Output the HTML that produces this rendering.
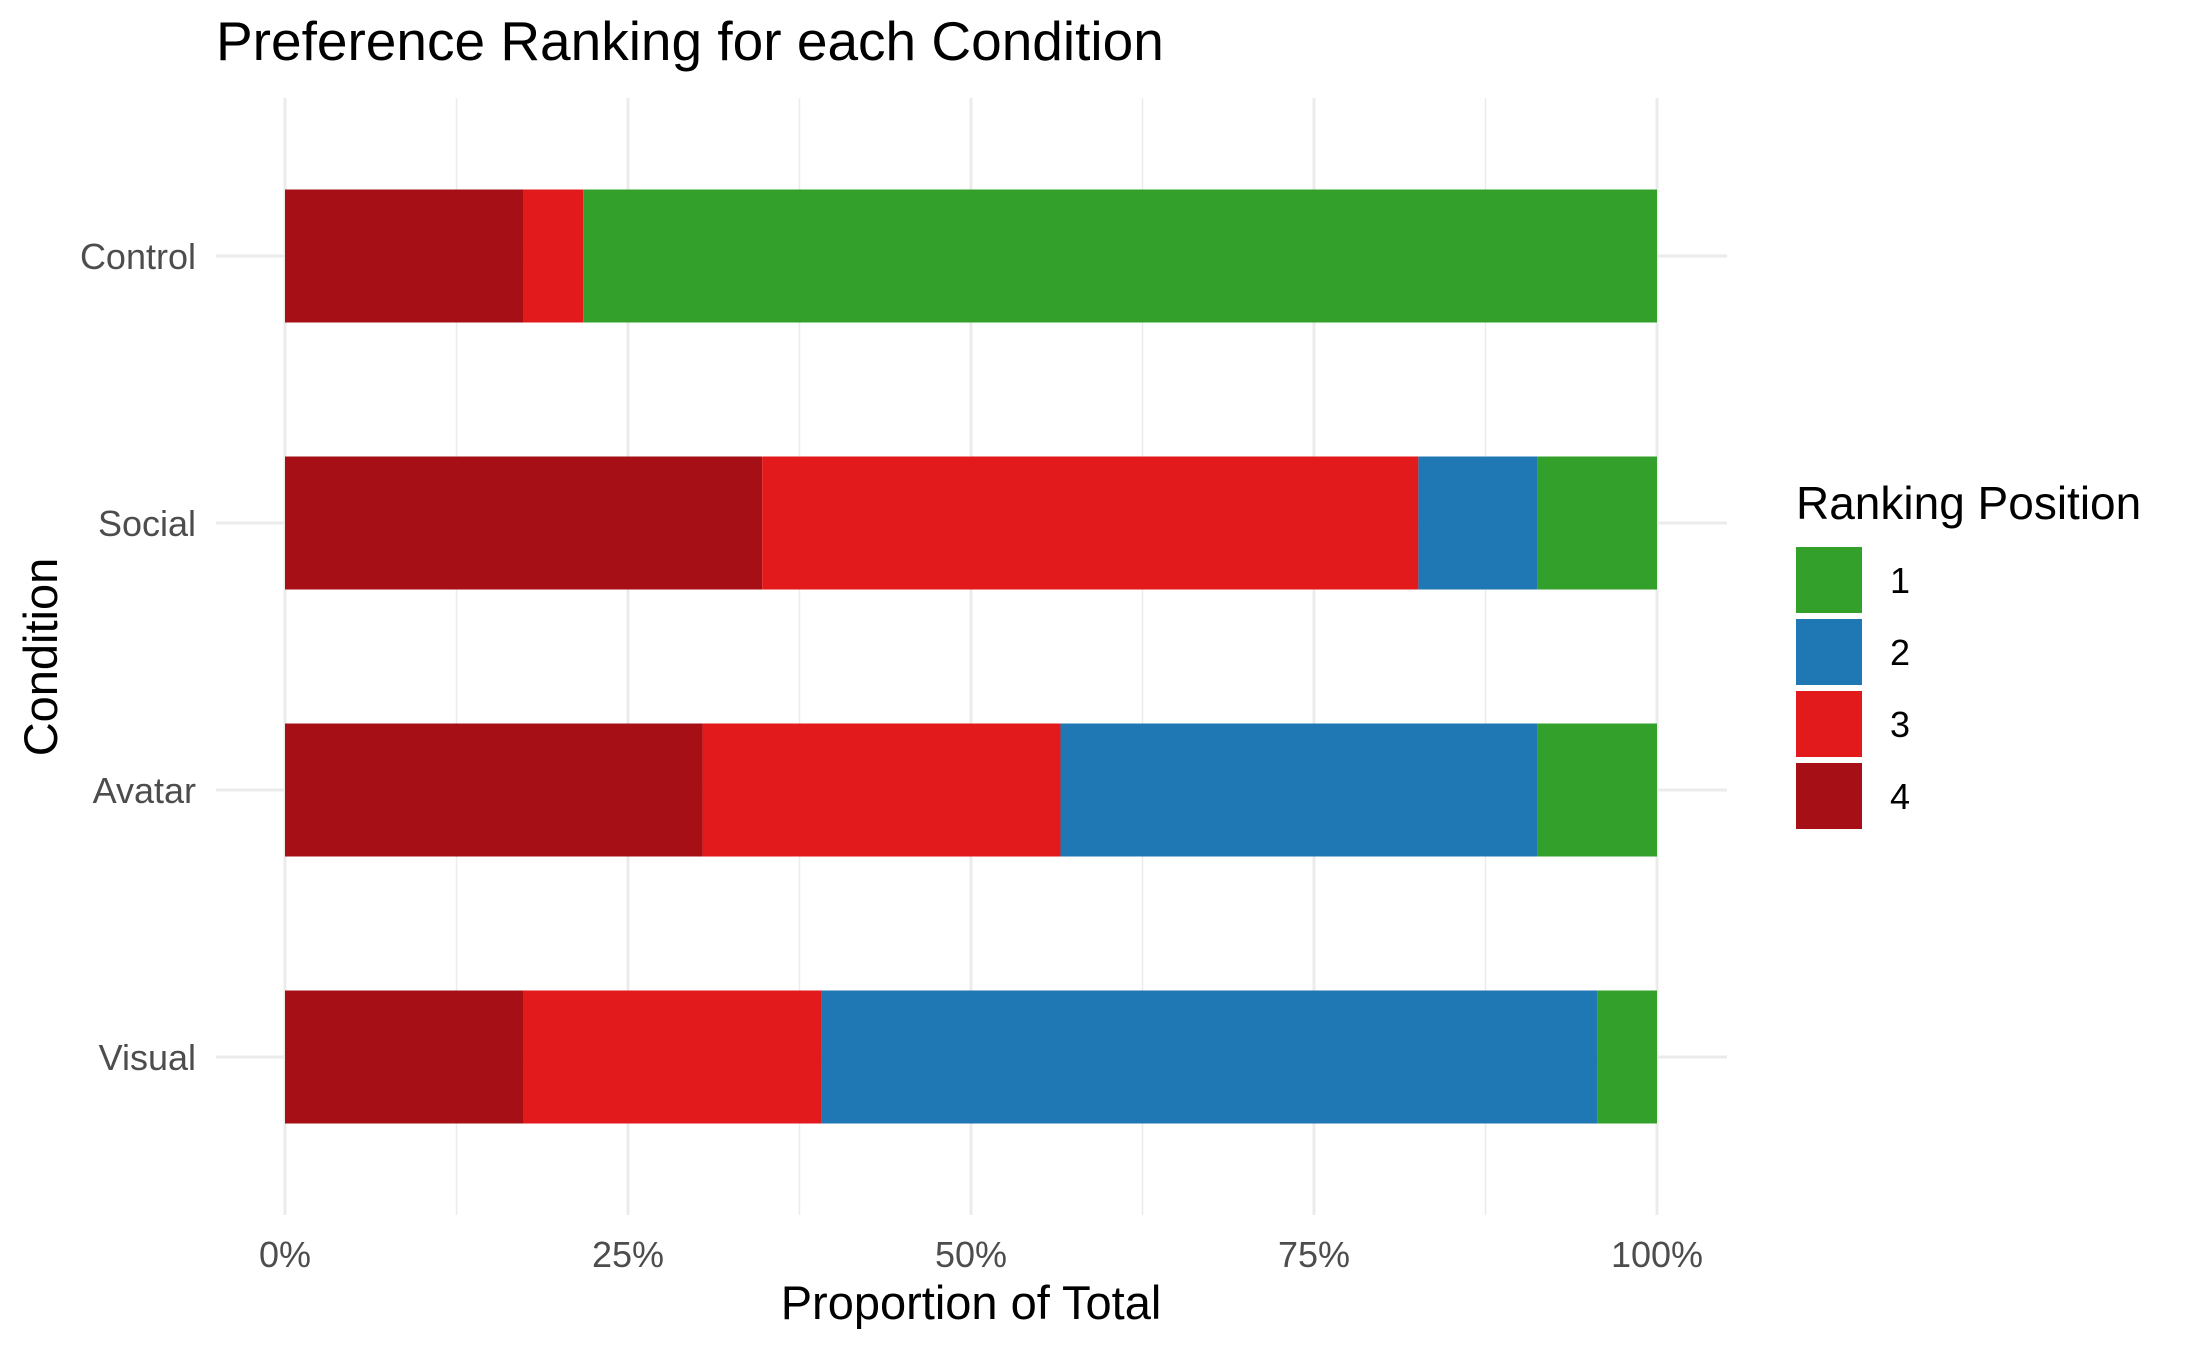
<!DOCTYPE html>
<html><head><meta charset="utf-8"><style>
body{margin:0;background:#fff;}
svg{display:block;font-family:"Liberation Sans",Arial,sans-serif;}
</style></head><body>
<svg id="chart" width="2187" height="1349">
<text x="216" y="60" font-size="55" fill="#000">Preference Ranking for each Condition</text>
<g id="grid"></g><g id="bars"></g><g id="axes"></g>
<text x="971" y="1319" font-size="47" text-anchor="middle" fill="#000">Proportion of Total</text>
<text x="0" y="0" font-size="47" text-anchor="middle" fill="#000" transform="translate(57,657) rotate(-90)">Condition</text>
<text x="1796" y="519" font-size="46" fill="#000">Ranking Position</text>
<g id="legend"></g>
</svg>
<script>
const categories=["Control","Social","Avatar","Visual"];
const rank4=[4,8,7,4];
const rank3=[1,11,6,5];
const rank2=[0,2,8,13];
const rank1=[18,2,2,1];
const seriesNames=["4","3","2","1"];
const colors={"1":"#33a02c","2":"#1f78b4","3":"#e31a1c","4":"#a50f15"};
const xTicks=[0,0.25,0.5,0.75,1];
const xTickLabels=["0%","25%","50%","75%","100%"];
const NS="http://www.w3.org/2000/svg";
const x0=285,x1=1657,yTop=98,yBot=1215,catStart=256,catStep=267,barH=133;
const xs=v=>x0+v*(x1-x0);
const ys=i=>catStart+i*catStep;
function mk(tag,attrs,parent){const e=document.createElementNS(NS,tag);for(const k in attrs)e.setAttribute(k,attrs[k]);parent.appendChild(e);return e;}
const grid=document.getElementById('grid'),bars=document.getElementById('bars'),axes=document.getElementById('axes'),legend=document.getElementById('legend');
for(let i=0;i<4;i++){const v=(2*i+1)/8;
 const l=mk('line',{x1:xs(v),x2:xs(v),y1:yTop,y2:yBot,stroke:'#ebebeb','stroke-width':1.5},grid);
 
 }
xTicks.forEach((v,i)=>{
 const l=mk('line',{x1:xs(v),x2:xs(v),y1:yTop,y2:yBot,stroke:'#ebebeb','stroke-width':3},grid);
 
 
 const t=mk('text',{x:xs(v),y:1267,'font-size':36,fill:'#4d4d4d','text-anchor':'middle'},axes);
 t.textContent=xTickLabels[i];
 
 
});
const seriesData={"4":rank4,"3":rank3,"2":rank2,"1":rank1};
categories.forEach((c,i)=>{
 const y=ys(i);
 const l=mk('line',{x1:216,x2:1727,y1:y,y2:y,stroke:'#ebebeb','stroke-width':3},grid);
 
 
 const t=mk('text',{x:196,y:y+13,'font-size':36,fill:'#4d4d4d','text-anchor':'end'},axes);
 t.textContent=c;
 
 
 let total=0;seriesNames.forEach(s=>total+=seriesData[s][i]);
 let cum=0;
 seriesNames.forEach(s=>{
  const v=seriesData[s][i]/total;
  if(v>0){
   const r=mk('rect',{x:xs(cum),y:y-barH/2,width:xs(cum+v)-xs(cum),height:barH,fill:colors[s]},bars);
   
   
  }
  cum+=v;
 });
});
["1","2","3","4"].forEach((s,i)=>{
 const y=547+i*72;
 const r=mk('rect',{x:1796,y:y,width:66,height:66,fill:colors[s]},legend);
 
 
 const t=mk('text',{x:1890,y:y+46,'font-size':36,fill:'#000'},legend);
 t.textContent=s;
 
 
});
</script>
</body></html>
